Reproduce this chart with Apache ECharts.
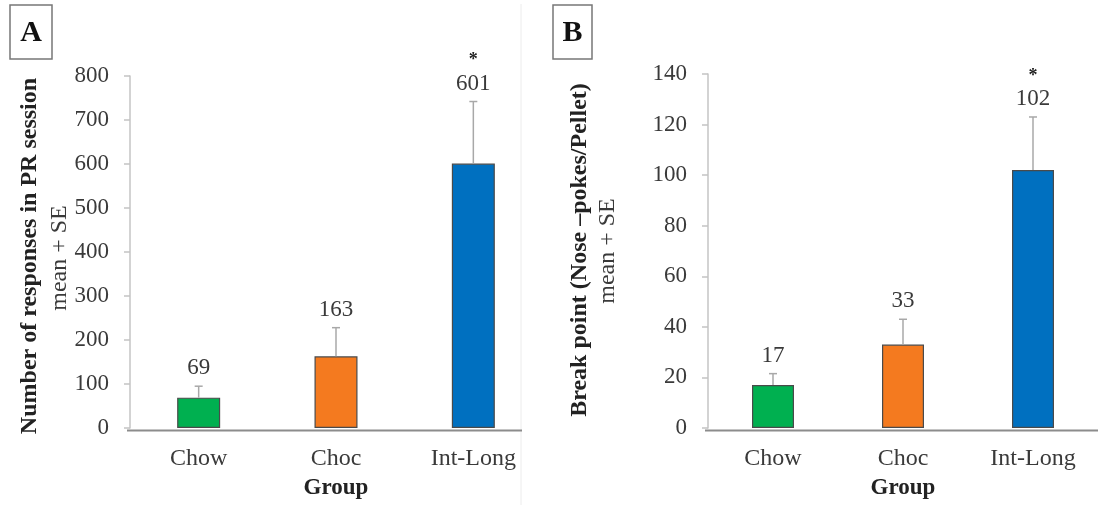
<!DOCTYPE html>
<html>
<head>
<meta charset="utf-8">
<script src="https://cdn.jsdelivr.net/npm/echarts@6/dist/echarts.min.js"></script>
<style>
  html, body { margin: 0; padding: 0; background: #fff; }
  #chart { width: 1098px; height: 505px; }
</style>
</head>
<body>
<div id="chart"></div>
<script>
// data
var groups = ["Chow", "Choc", "Int-Long"];
var barColors = ["#00b050", "#f47a1f", "#0070c0"];
var stars = ["", "", "*"];

var responsesMean = [69, 163, 601];
var responsesUpper = [95, 228, 742];   // mean + SE
var responsesTicks = [0, 800, 100];    // min, max, step

var breakMean = [17, 33, 102];
var breakUpper = [21.5, 43, 123];      // mean + SE
var breakTicks = [0, 140, 20];

var FONT = "'Liberation Serif', 'Times New Roman', serif";
var TEXT = "#3a3a3a";

var chart = echarts.init(document.getElementById("chart"));

function barData(vals) {
  return vals.map(function (v, i) {
    return { value: v, itemStyle: { color: barColors[i] } };
  });
}

function errData(mean, upper) {
  return mean.map(function (m, i) { return [i, m, upper[i]]; });
}

// error bar with value label and star above it
function renderErr(params, api) {
  var i = api.value(0);
  var base = api.coord([i, api.value(1)]);
  var top = api.coord([i, api.value(2)]);
  var star = stars[params.dataIndex];
  var labelY = top[1] - 18;
  var kids = [
    { type: "line", shape: { x1: base[0], y1: base[1], x2: top[0], y2: top[1] },
      style: { stroke: "#a8a8a8", lineWidth: 1.5 } },
    { type: "line", shape: { x1: top[0] - 4, y1: top[1], x2: top[0] + 4, y2: top[1] },
      style: { stroke: "#a8a8a8", lineWidth: 1.5 } },
    { type: "text", style: { text: String(api.value(1)), x: top[0], y: labelY,
      align: "center", verticalAlign: "middle", font: "23px " + FONT, fill: TEXT } }
  ];
  if (star) {
    kids.push({ type: "text", style: { text: star, x: top[0], y: labelY - 23,
      align: "center", verticalAlign: "middle", font: "bold 18px " + FONT, fill: "#222" } });
  }
  return { type: "group", children: kids };
}

function xAxisFor(gi) {
  return {
    type: "category", gridIndex: gi, data: groups,
    axisLine: { show: false }, axisTick: { show: false },
    axisLabel: { margin: 19, fontFamily: FONT, fontSize: 24, color: TEXT },
    name: "Group", nameLocation: "middle", nameGap: 49,
    nameTextStyle: { fontFamily: FONT, fontSize: 23, fontWeight: "bold", color: "#222" }
  };
}

function yAxisFor(gi, t) {
  return {
    type: "value", gridIndex: gi, min: t[0], max: t[1], interval: t[2],
    splitLine: { show: false },
    axisLine: { show: true, lineStyle: { color: "#c4c4c4", width: 1.5 } },
    axisTick: { show: true, length: 6, lineStyle: { color: "#c4c4c4", width: 1.5 } },
    axisLabel: { margin: 21, fontFamily: FONT, fontSize: 23, color: TEXT }
  };
}

function vText(txt, x, y, bold) {
  return {
    type: "text", x: x, y: y, rotation: Math.PI / 2,
    style: { text: txt, align: "center", verticalAlign: "middle",
      font: (bold ? "bold " : "") + "24px " + FONT, fill: bold ? "#222" : TEXT }
  };
}

function panelBox(x, w, letter) {
  return [
    { type: "rect", shape: { x: x, y: 5, width: w, height: 54 },
      style: { fill: "#fff", stroke: "#777", lineWidth: 1.5 } },
    { type: "text", x: x + w / 2, y: 33,
      style: { text: letter, align: "center", verticalAlign: "middle",
        font: "bold 30px " + FONT, fill: "#111" } }
  ];
}

chart.setOption({
  animation: false,
  grid: [
    { left: 130, top: 76, width: 412, bottom: 75 },
    { left: 708, top: 74, width: 395, bottom: 75 }
  ],
  xAxis: [xAxisFor(0), xAxisFor(1)],
  yAxis: [yAxisFor(0, responsesTicks), yAxisFor(1, breakTicks)],
  series: [
    { type: "bar", xAxisIndex: 0, yAxisIndex: 0, barWidth: 43,
      data: barData(responsesMean),
      itemStyle: { borderColor: "#4a4a4a", borderWidth: 1.2 } },
    { type: "custom", xAxisIndex: 0, yAxisIndex: 0, z: 3,
      data: errData(responsesMean, responsesUpper), renderItem: renderErr },
    { type: "bar", xAxisIndex: 1, yAxisIndex: 1, barWidth: 42,
      data: barData(breakMean),
      itemStyle: { borderColor: "#4a4a4a", borderWidth: 1.2 } },
    { type: "custom", xAxisIndex: 1, yAxisIndex: 1, z: 3,
      data: errData(breakMean, breakUpper), renderItem: renderErr }
  ],
  graphic: [
    // x axis baselines (visible axis line is shorter than the category band in A, cropped in B)
    { type: "line", shape: { x1: 127, y1: 430.5, x2: 522, y2: 430.5 },
      style: { stroke: "#8c8c8c", lineWidth: 2 }, z: 10 },
    { type: "line", shape: { x1: 705, y1: 430.5, x2: 1098, y2: 430.5 },
      style: { stroke: "#8c8c8c", lineWidth: 2 }, z: 10 },
    // faint separator between panels
    { type: "line", shape: { x1: 521, y1: 4, x2: 521, y2: 505 },
      style: { stroke: "#ececec", lineWidth: 1 } },
    vText("Number of responses in PR session", 30, 256, true),
    vText("mean + SE", 60, 258, false),
    vText("Break point (Nose \u2013pokes/Pellet)", 580, 250, true),
    vText("mean + SE", 608, 251, false)
  ].concat(panelBox(10, 42, "A"), panelBox(553, 39, "B"))
});
</script>
</body>
</html>
